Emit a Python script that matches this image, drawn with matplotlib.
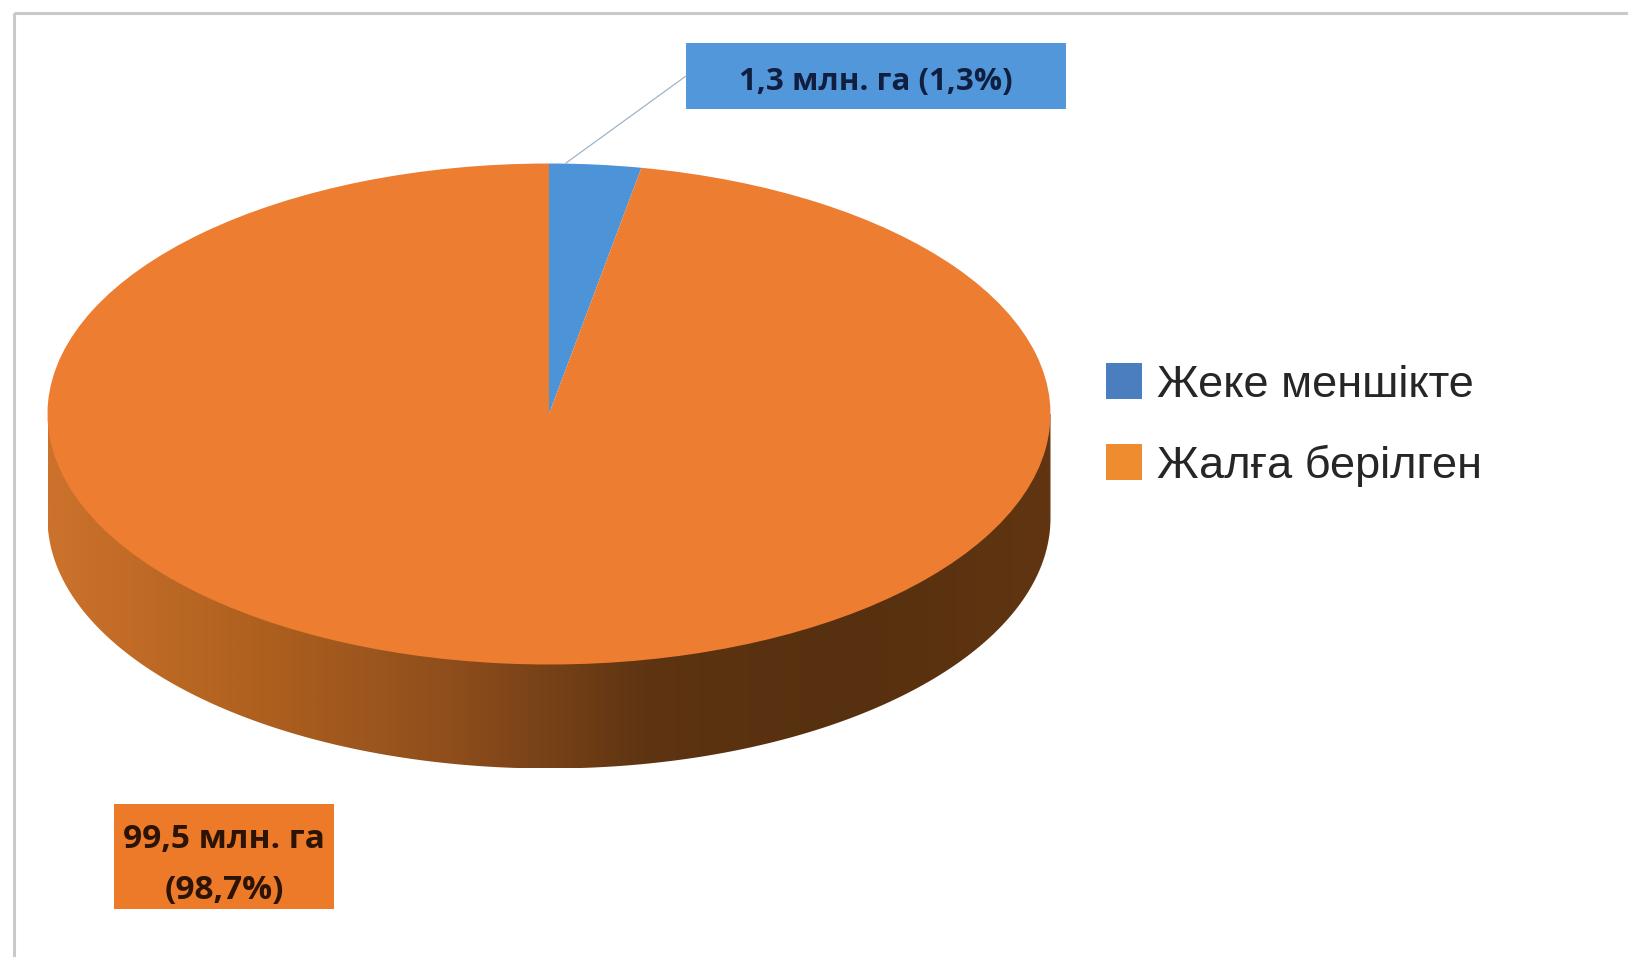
#!/usr/bin/env python3
import numpy as np
import matplotlib
matplotlib.use("Agg")
import matplotlib.pyplot as plt
from matplotlib.colors import LinearSegmentedColormap
from matplotlib.patches import Patch, Polygon, Rectangle

W, H = 1628, 957

labels = ["Жеке меншікте", "Жалға берілген"]
# slice sizes as drawn in the picture, the blue one is wider than its 1,3% label
drawn_shares = [2.95, 97.05]
value_labels = ["1,3 млн. га (1,3%)", "99,5 млн. га\n(98,7%)"]
pie_colors = ["#4C93D8", "#ED7D31"]
legend_colors = ["#4A7EBE", "#F08C30"]
wall_colors = ["#CC722C", "#B0611F", "#8F4E1C", "#5E3412", "#56300F", "#613511"]

# pie geometry in pixels
cx, cy = 549, 414
rx, ry = 501.5, 250.5
depth = 104

fig = plt.figure(figsize=(W / 100, H / 100), dpi=100, facecolor="white")

# background axes in pixel coords for frame, wall and label boxes
bg = fig.add_axes([0, 0, 1, 1])
bg.axis("off")

bg.add_patch(Rectangle((14, 13), W, H, fill=False, edgecolor="#C9C9C9", linewidth=2.2))

# side wall of the 3d pie with a horizontal gradient
t = np.linspace(0, np.pi, 200)
lower_x = cx + rx * np.cos(t)
lower_y = cy + ry * np.sin(t) + depth
wall_pts = np.column_stack([
    np.r_[lower_x, cx - rx, cx + rx],
    np.r_[lower_y, cy, cy],
])
wall_cmap = LinearSegmentedColormap.from_list("wall", wall_colors)
gradient = np.linspace(0, 1, 512).reshape(1, -1)
wall = bg.imshow(gradient, cmap=wall_cmap, aspect="auto",
                 extent=[cx - rx, cx + rx, cy + ry + depth, cy])
wall.set_clip_path(Polygon(wall_pts, transform=bg.transData))

bg.set_xlim(0, W)
bg.set_ylim(H, 0)

# leader line and the two value labels
bg.plot([566, 686], [163, 76], color="#9FB4C8", linewidth=0.9)
bg.add_patch(Rectangle((686, 43), 380, 66, facecolor="#5297DA", edgecolor="none"))
bg.text(876, 82, value_labels[0], ha="center", va="center", fontsize=22.5,
        fontweight="bold", family="Open Sans", color="#101F3F", stretch="condensed")
bg.add_patch(Rectangle((114, 804), 220, 105, facecolor="#ED7A28", edgecolor="none"))
bg.text(224, 865, value_labels[1], ha="center", va="center", fontsize=24,
        fontweight="bold", family="Open Sans", color="#2B1406", linespacing=1.72)

# top face, the axes covers exactly the ellipse so the circle gets squashed
ax = fig.add_axes([(cx - rx) / W, 1 - (cy + ry) / H, 2 * rx / W, 2 * ry / H])
wedges, _ = ax.pie(drawn_shares, colors=pie_colors, startangle=90, counterclock=False,
                   radius=1)
ax.set_aspect("auto")
ax.set_xlim(-1, 1)
ax.set_ylim(-1, 1)
for w in wedges:
    w.set_clip_on(False)

handles = [Patch(facecolor=c, edgecolor="none") for c in legend_colors]
fig.legend(handles, labels, loc="center left", bbox_to_anchor=(1065 / W, 1 - 425 / H),
           frameon=False, prop={"family": "Liberation Sans", "size": 32.5},
           handlelength=0.8, handleheight=0.85, handletextpad=0.33, labelspacing=0.85,
           labelcolor="#262626")

fig.savefig("out.png", dpi=100)
